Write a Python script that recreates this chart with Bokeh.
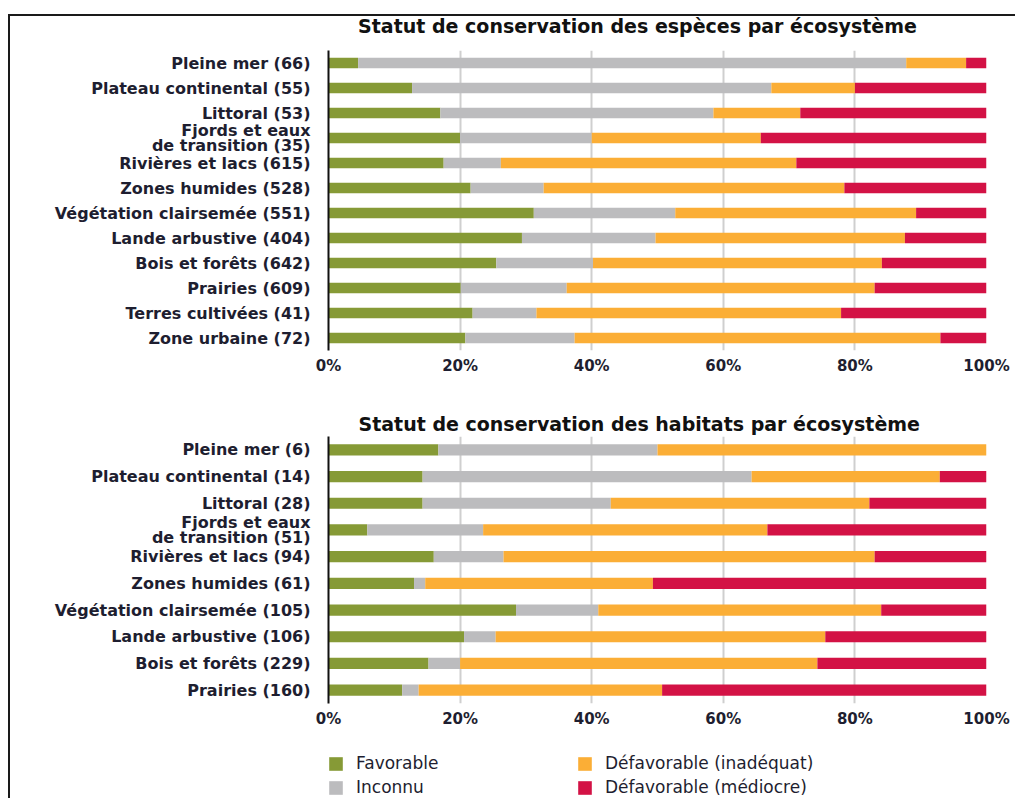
from bokeh.plotting import figure
from bokeh.models import (FactorRange, Range1d, FixedTicker, PrintfTickFormatter,
                          Legend, LegendItem, Title, Label)
from bokeh.layouts import column
from bokeh.embed import file_html
from bokeh.resources import INLINE

# ---------------- data ----------------
series = ["Favorable", "Inconnu", "Défavorable (inadéquat)", "Défavorable (médiocre)"]
colors = ["#869a36", "#bcbcbe", "#fbae36", "#d31245"]

cats_especes = ["Pleine mer (66)", "Plateau continental (55)", "Littoral (53)",
                "Fjords et eaux\nde transition (35)", "Rivières et lacs (615)",
                "Zones humides (528)", "Végétation clairsemée (551)",
                "Lande arbustive (404)", "Bois et forêts (642)", "Prairies (609)",
                "Terres cultivées (41)", "Zone urbaine (72)"]
esp_favorable = [4.5, 12.7, 17.0, 20.0, 17.5, 21.6, 31.2, 29.4, 25.5, 20.1, 21.9, 20.8]
esp_inconnu = [83.3, 54.6, 41.5, 20.0, 8.7, 11.1, 21.5, 20.3, 14.7, 16.1, 9.7, 16.6]
esp_inadequat = [9.1, 12.7, 13.2, 25.7, 44.9, 45.7, 36.6, 37.9, 43.9, 46.8, 46.3, 55.6]
esp_mediocre = [3.1, 20.0, 28.3, 34.3, 28.9, 21.6, 10.7, 12.4, 15.9, 17.0, 22.1, 7.0]

cats_habitats = ["Pleine mer (6)", "Plateau continental (14)", "Littoral (28)",
                 "Fjords et eaux\nde transition (51)", "Rivières et lacs (94)",
                 "Zones humides (61)", "Végétation clairsemée (105)",
                 "Lande arbustive (106)", "Bois et forêts (229)", "Prairies (160)"]
hab_favorable = [16.7, 14.3, 14.3, 5.9, 16.0, 13.0, 28.5, 20.6, 15.2, 11.2]
hab_inconnu = [33.3, 50.0, 28.6, 17.6, 10.6, 1.7, 12.5, 4.8, 4.8, 2.5]
hab_inadequat = [50.0, 28.6, 39.3, 43.2, 56.4, 34.6, 43.0, 50.1, 54.3, 37.0]
hab_mediocre = [0.0, 7.1, 17.8, 33.3, 17.0, 50.7, 16.0, 24.5, 25.7, 49.3]

title_especes = "Statut de conservation des espèces par écosystème"
title_habitats = "Statut de conservation des habitats par écosystème"
tick_values = [0, 20, 40, 60, 80, 100]

TEXT = "#1e1e30"
FONT = "DejaVu Sans"


def make_chart(cats, fav, inc, ina, med, height, top, bottom):
    p = figure(width=1005, height=height, output_backend="svg", toolbar_location=None,
               y_range=FactorRange(*list(reversed(cats))), x_range=Range1d(0, 100),
               min_border_left=318, min_border_right=29,
               min_border_top=top, min_border_bottom=bottom)
    data = dict(cat=cats, fav=fav, inc=inc, ina=ina, med=med)
    p.hbar_stack(["fav", "inc", "ina", "med"], y="cat", height=0.42, color=colors,
                 line_color=None, source=data)
    p.outline_line_color = None
    p.ygrid.grid_line_color = None
    p.xgrid.grid_line_color = "#cfcfcf"
    p.xgrid.grid_line_width = 2
    p.xaxis.ticker = FixedTicker(ticks=tick_values)
    p.xaxis.formatter = PrintfTickFormatter(format="%d%%")
    p.xaxis.axis_line_color = None
    p.xaxis.major_tick_line_color = None
    p.xaxis.minor_tick_line_color = None
    p.xaxis.major_tick_out = 0
    p.xaxis.major_tick_in = 0
    p.xaxis.major_label_standoff = 6
    p.xaxis.major_label_text_font = FONT
    p.xaxis.major_label_text_font_size = "15px"
    p.xaxis.major_label_text_font_style = "bold"
    p.xaxis.major_label_text_color = TEXT
    p.yaxis.axis_line_color = "#111111"
    p.yaxis.axis_line_width = 2
    p.yaxis.major_tick_line_color = None
    p.yaxis.minor_tick_line_color = None
    p.yaxis.major_label_standoff = 12
    p.yaxis.major_label_text_font = FONT
    p.yaxis.major_label_text_font_size = "16px"
    p.yaxis.major_label_text_font_style = "bold"
    p.yaxis.major_label_text_line_height = 0.82
    p.yaxis.major_label_text_color = TEXT
    return p


p1 = make_chart(cats_especes, esp_favorable, esp_inconnu,
                esp_inadequat, esp_mediocre, 396, 34, 62)
p1.add_layout(Label(x=309, y=25, x_units="screen", y_units="screen", text=title_especes,
                    text_align="center", text_baseline="middle",
                    text_font=FONT, text_font_size="19px", text_font_style="bold",
                    text_color="#111111"), "above")

p2 = make_chart(cats_habitats, hab_favorable, hab_inconnu,
                hab_inadequat, hab_mediocre, 323, 24, 32)
p2.add_layout(Title(text=title_habitats, align="left", offset=30, vertical_align="top",
                    standoff=0, text_font=FONT, text_font_size="19px",
                    text_font_style="bold", text_color="#111111"), "above")

# legend figure
p3 = figure(width=1005, height=63, output_backend="svg", toolbar_location=None,
            x_range=Range1d(0, 1), y_range=Range1d(0, 1),
            x_axis_location=None, y_axis_location=None,
            min_border_left=318, min_border_right=29, min_border_top=0, min_border_bottom=0)
p3.outline_line_color = None
p3.grid.visible = False
rends = []
for c in colors:
    # legend swatches only: placed outside the visible range
    rends.append(p3.quad(left=[5], right=[6], top=[6], bottom=[5], fill_color=c, line_color=None))

legend = Legend(items=[LegendItem(label=s, renderers=[r]) for s, r in zip(series, rends)],
                location=(-1, 1), orientation="vertical", nrows=2,
                glyph_width=17, glyph_height=17, label_standoff=12, spacing=4,
                padding=0, margin=0, border_line_color=None, background_fill_alpha=0,
                label_text_font=FONT, label_text_font_size="17px",
                label_text_color=TEXT, label_height=20, label_width=216)
p3.add_layout(legend, "center")

layout = column(p1, p2, p3, margin=(14, 0, 0, 8),
                styles={"border-top": "2px solid #1a1a1a", "border-left": "2px solid #1a1a1a"})

open("out.html", "w").write(file_html(layout, INLINE))
